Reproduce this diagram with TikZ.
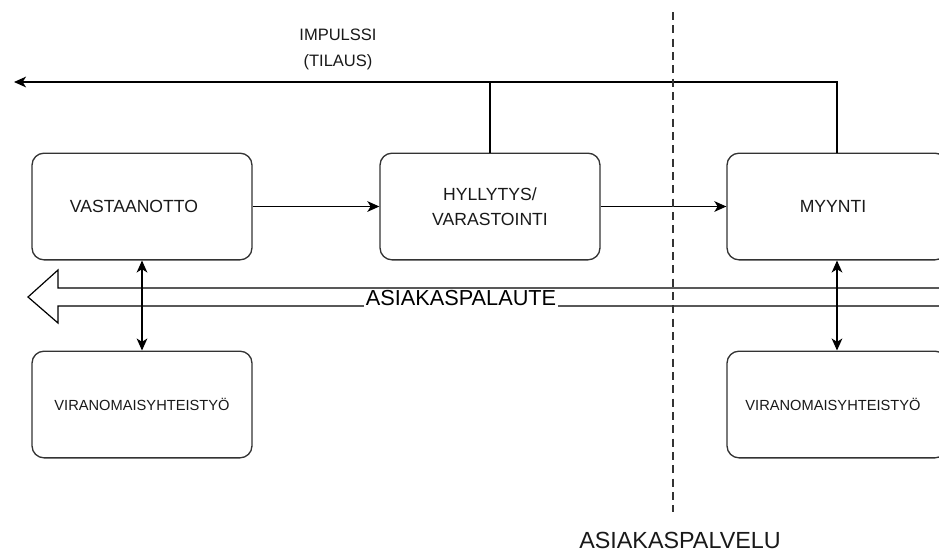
\documentclass[tikz,border=0pt]{standalone}
\usepackage{fontspec}
\setmainfont{Liberation Sans}
\usetikzlibrary{arrows.meta}
\begin{document}
\begin{tikzpicture}[x=0.75pt,y=-0.75pt,
  box/.style={draw=black!80, line width=1pt, rounded corners=9pt,
    minimum width=165pt, minimum height=80pt, inner sep=0pt, align=center,
    font=\fontsize{13.2}{18.75}\selectfont, text=black!90},
  smallbox/.style={box, font=\fontsize{11}{13}\selectfont},
  flow/.style={line width=1.1pt, -{Stealth[length=9pt,width=8pt,inset=2.5pt]}},
  both/.style={line width=1.1pt, {Stealth[length=9pt,width=8pt,inset=2.5pt]}-{Stealth[length=9pt,width=8pt,inset=2.5pt]}},
  plain/.style={line width=1.1pt},
  lbl/.style={inner sep=1pt, text=black!90}]
\useasboundingbox (0,0) rectangle (939,551);

% process boxes
\node[box] (vast) at (142,206.5) {VASTAANOTTO\hspace*{12pt}};
\node[box] (hyl)  at (490,206.5) {HYLLYTYS/\\VARASTOINTI};
\node[box] (myy)  at (837,206.5) {MYYNTI\hspace*{6pt}};
\node[smallbox] (virL) at (142,404.5) {VIRANOMAISYHTEISTYÖ};
\node[smallbox] (virR) at (837,404.5) {VIRANOMAISYHTEISTYÖ\hspace*{6pt}};

% main flow
\draw[flow] (vast.east) -- (hyl.west);
\draw[flow] (hyl.east) -- (myy.west);

% impulse (order) line back to the start
\coordinate (imp) at (14,82);
\draw[flow] (myy.north) |- (imp);
\draw[plain] (hyl.north) -- (hyl.north |- imp);
\node[lbl, align=center, font=\fontsize{12.4}{19.5}\selectfont] (impt) at (338,49) {IMPULSSI\\(TILAUS)};

% customer feedback: hollow block arrow
\coordinate (fbtip) at (28,297);
\draw[line width=0.9pt, fill=white, line join=miter]
  (945,288) -- (58,288) -- (58,270) -- (fbtip) -- (58,323) -- (58,306) -- (945,306);
\node[fill=white, inner sep=1pt, font=\fontsize{16.3}{18}\selectfont] (fb) at (461,298) {ASIAKASPALAUTE};

% authority cooperation links
\draw[both] (vast.south) -- (virL.north);
\draw[both] (myy.south) -- (virR.north);

% customer service boundary
\coordinate (dtop) at (673,12);
\coordinate (dbot) at (673,512);
\draw[black!80, line width=1.3pt, dash pattern=on 6pt off 4pt] (dtop) -- (dbot);
\node[lbl, font=\fontsize{17.5}{20}\selectfont] (cs) at (680,540) {ASIAKASPALVELU};
\end{tikzpicture}
\end{document}
